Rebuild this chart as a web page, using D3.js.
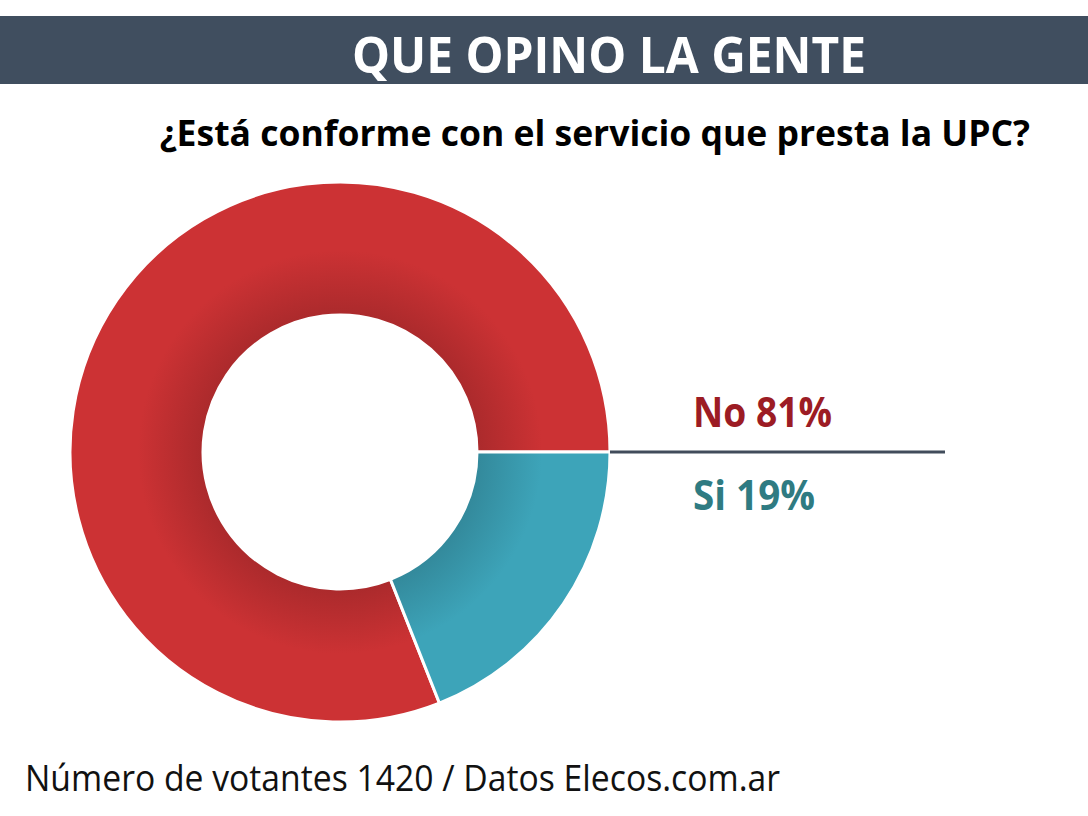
<!DOCTYPE html>
<html>
<head>
<meta charset="utf-8">
<script src="https://cdn.jsdelivr.net/npm/d3@7"></script>
<style>
  body { margin: 0; background: #fff; }
  svg text { font-family: "Open Sans", "Noto Sans", sans-serif; }
</style>
</head>
<body>
<div id="chart"></div>
<script>
// data
const categories = ["No", "Si"];
const percents = [81, 19];
const labels = ["No 81%", "Si 19%"];
const sliceColors = ["#cc3234", "#3da4b9"];
const labelColors = ["#9c1c24", "#2f7b82"];

const W = 1088, H = 816;
const svg = d3.select("#chart").append("svg")
  .attr("width", W).attr("height", H);

const defs = svg.append("defs");

// shrink a text's font until it fits the given width
function fitText(sel, maxW) {
  let fs = +sel.attr("font-size");
  while (sel.node().getComputedTextLength() > maxW && fs > 8) {
    fs -= 0.5;
    sel.attr("font-size", fs);
  }
}

// header band
svg.append("rect")
  .attr("x", 0).attr("y", 16).attr("width", W).attr("height", 68)
  .attr("fill", "#404e5f");
svg.append("text")
  .attr("x", 352).attr("y", 73)
  .attr("textLength", 514).attr("lengthAdjust", "spacingAndGlyphs")
  .attr("font-size", 50).attr("font-weight", 700)
  .attr("fill", "#fff")
  .text("QUE OPINO LA GENTE");

// question
const question = svg.append("text")
  .attr("x", 1030).attr("y", 146)
  .attr("text-anchor", "end")
  .attr("font-size", 40).attr("font-weight", 700)
  .attr("fill", "#000")
  .text("¿Está conforme con el servicio que presta la UPC?");
fitText(question, 880);

// donut
const cx = 340, cy = 452, rOuter = 270, rInner = 137;
const g = svg.append("g").attr("transform", `translate(${cx},${cy})`);

// radial shading: darker next to the hole
sliceColors.forEach((c, i) => {
  const grad = defs.append("radialGradient")
    .attr("id", "shade" + i)
    .attr("gradientUnits", "userSpaceOnUse")
    .attr("cx", 0).attr("cy", 0).attr("r", rOuter);
  const dark = d3.color(c).darker(0.5);
  grad.append("stop").attr("offset", rInner / rOuter).attr("stop-color", dark);
  grad.append("stop").attr("offset", (rInner + 65) / rOuter).attr("stop-color", c);
  grad.append("stop").attr("offset", 1).attr("stop-color", c);
});

const start = Math.PI / 2 + 2 * Math.PI * percents[1] / 100;
const pie = d3.pie().sort(null)
  .startAngle(start)
  .endAngle(start + 2 * Math.PI);
const arc = d3.arc().innerRadius(rInner).outerRadius(rOuter);

g.selectAll("path.slice")
  .data(pie(percents))
  .enter().append("path")
  .attr("class", "slice")
  .attr("d", arc)
  .attr("fill", (d, i) => `url(#shade${i})`)
  .attr("stroke", "#fff")
  .attr("stroke-width", 3);

// divider line and labels
svg.append("line")
  .attr("x1", cx + rOuter).attr("x2", 945)
  .attr("y1", cy).attr("y2", cy)
  .attr("stroke", "#414c5b").attr("stroke-width", 3);

const labelY = [427, 510];
const labelW = [139, 122];
svg.selectAll("text.lbl")
  .data(labels)
  .enter().append("text")
  .attr("class", "lbl")
  .attr("x", 693).attr("y", (d, i) => labelY[i])
  .attr("textLength", (d, i) => labelW[i]).attr("lengthAdjust", "spacingAndGlyphs")
  .attr("font-size", 41).attr("font-weight", 700)
  .attr("fill", (d, i) => labelColors[i])
  .text(d => d);

// footer
svg.append("text")
  .attr("x", 25).attr("y", 791)
  .attr("textLength", 755).attr("lengthAdjust", "spacingAndGlyphs")
  .attr("font-size", 36)
  .attr("fill", "#111")
  .text("Número de votantes 1420 / Datos Elecos.com.ar");
</script>
</body>
</html>
